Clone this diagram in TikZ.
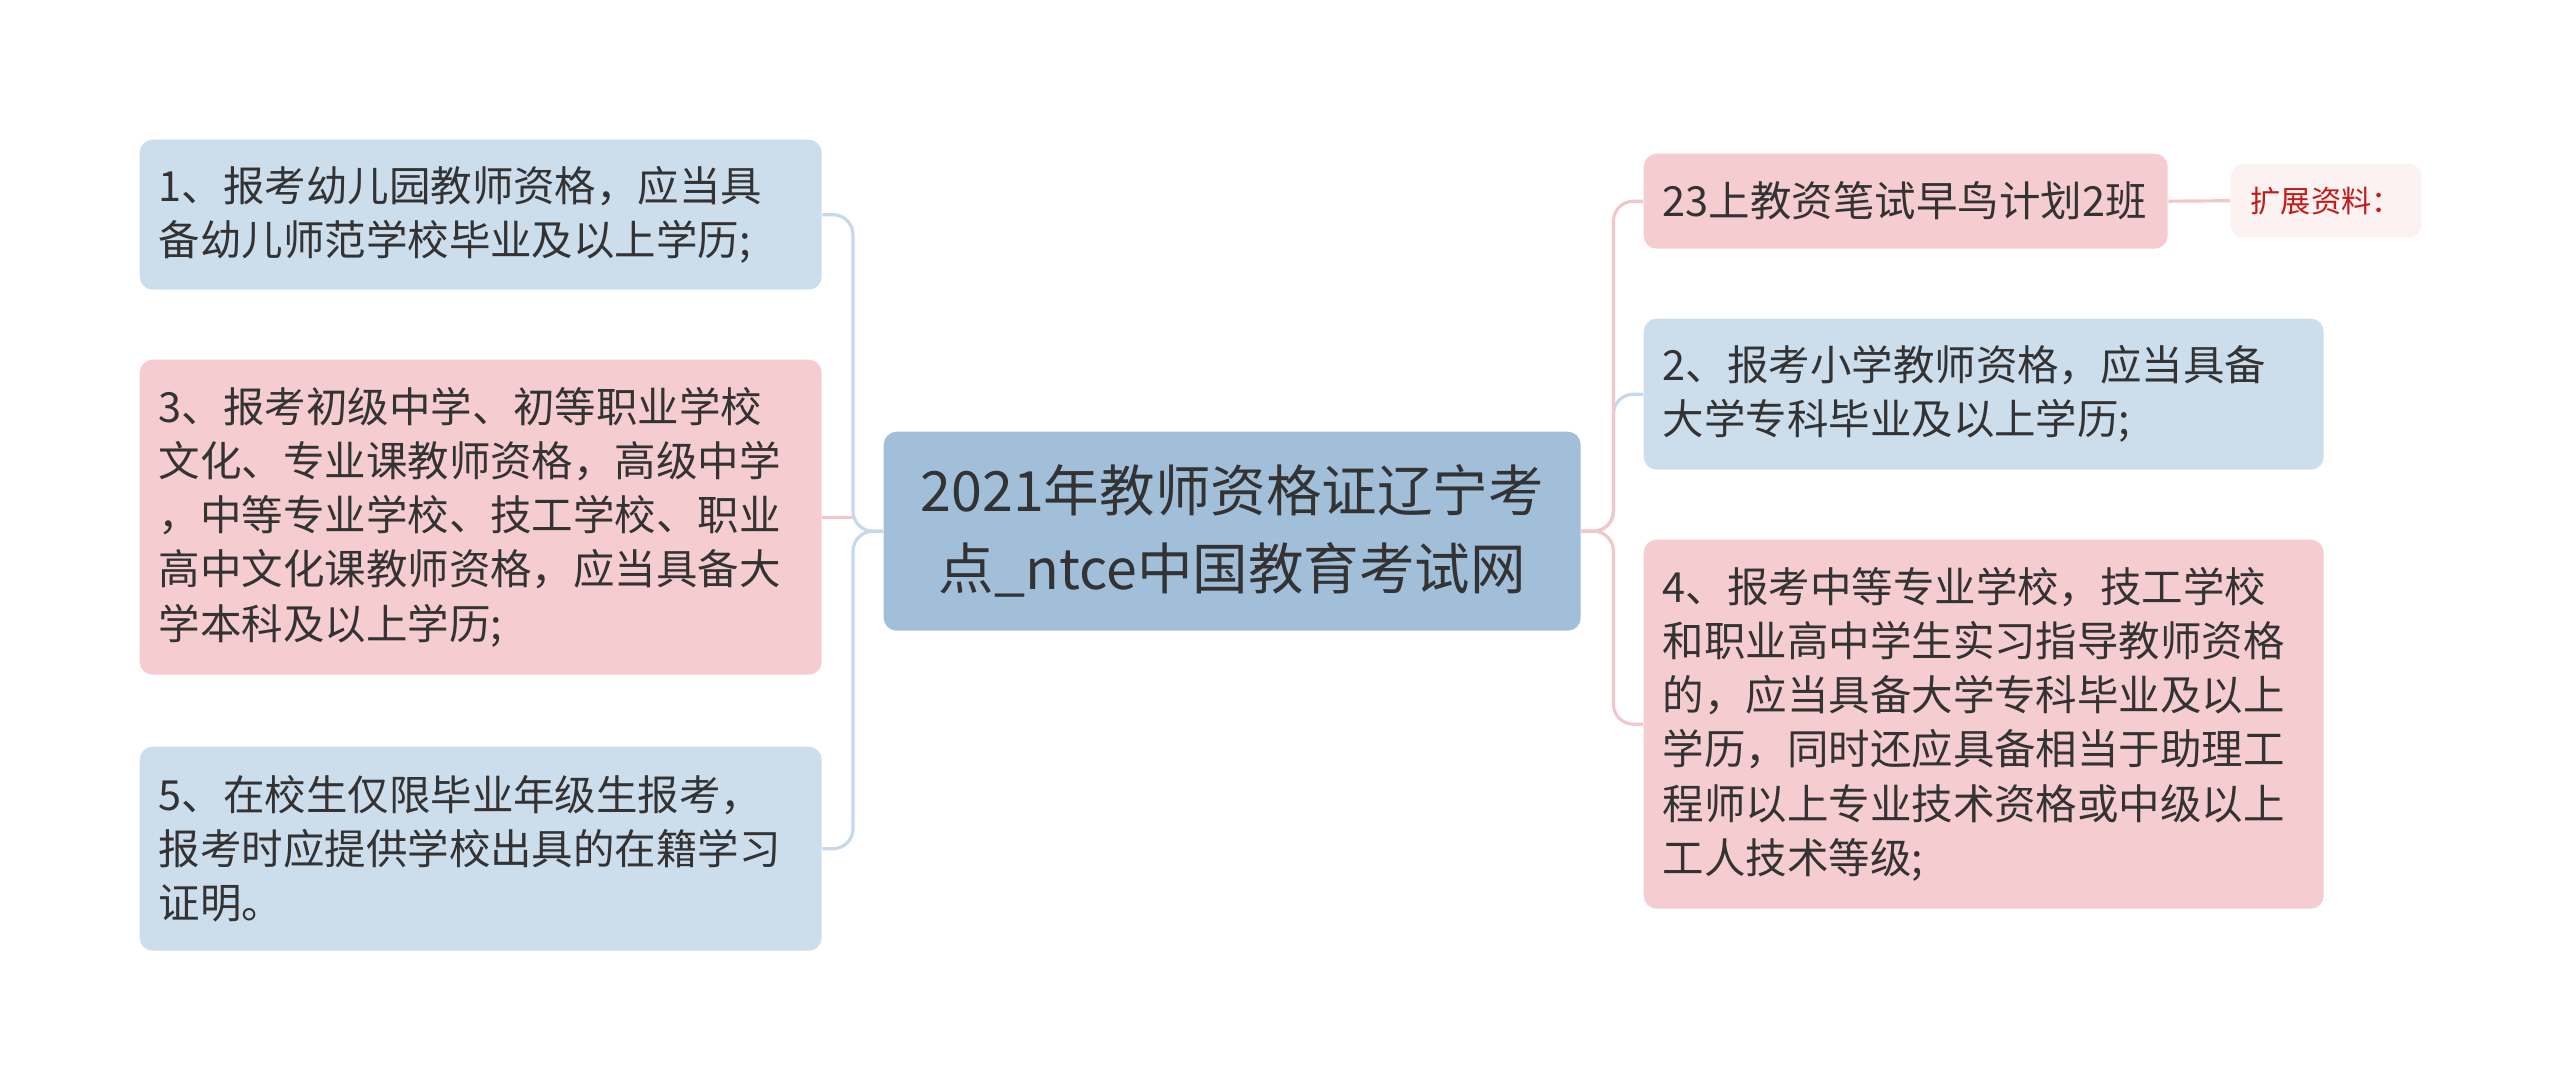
\documentclass[tikz,border=0pt]{standalone}
\usepackage{fontspec}
\setmainfont{Noto Sans CJK SC}
\usetikzlibrary{positioning}
\definecolor{bluefill}{HTML}{CCDDEC}
\definecolor{pinkfill}{HTML}{F5CDD0}
\definecolor{rootfill}{HTML}{A2BFDA}
\definecolor{notefill}{HTML}{FCF2F2}
\definecolor{bluewire}{HTML}{C6D9EB}
\definecolor{pinkwire}{HTML}{F2C6CA}
\definecolor{textgray}{HTML}{333333}
\definecolor{notered}{HTML}{C41A1A}

\begin{document}
\begin{tikzpicture}[
        box/.style={rounded corners=0.13cm, anchor=north west, align=left,
            inner xsep=0.19cm, text=textgray, font=\fontsize{11.8}{15.4}\selectfont},
        bluebox/.style={box, fill=bluefill},
        pinkbox/.style={box, fill=pinkfill},
        bluelink/.style={draw=bluewire, line width=0.9pt, rounded corners=0.2cm},
        pinklink/.style={draw=pinkwire, line width=0.9pt, rounded corners=0.2cm}]
        \useasboundingbox (0, 0) rectangle (25.6, -10.89);
        \node (ctr) at (8.83, -4.31) [box, fill=rootfill, align=center, text width=6.59cm,
            minimum height=1.99cm, font=\fontsize{15.8}{22.2}\selectfont]
            {2021年教师资格证辽宁考\\点\_ntce中国教育考试网};
        \node (q1) at (1.39, -1.39) [bluebox, text width=6.44cm, minimum height=1.50cm]
            {1、报考幼儿园教师资格，应当具\\备幼儿师范学校毕业及以上学历;};
        \node (q3) at (1.39, -3.59) [pinkbox, text width=6.44cm, minimum height=3.15cm]
            {3、报考初级中学、初等职业学校\\文化、专业课教师资格，高级中学\\，中等专业学校、技工学校、职业\\高中文化课教师资格，应当具备大\\学本科及以上学历;};
        \node (q5) at (1.39, -7.46) [bluebox, text width=6.44cm, minimum height=2.04cm]
            {5、在校生仅限毕业年级生报考，\\报考时应提供学校出具的在籍学习\\证明。};
        \node (r23) at (16.43, -1.53) [pinkbox, text width=4.86cm, minimum height=0.95cm]
            {23上教资笔试早鸟计划2班};
        \node (ext) at (22.30, -1.63) [box, fill=notefill, text=notered, align=center,
            text width=1.53cm, minimum height=0.74cm, font=\fontsize{8.6}{10}\selectfont]
            {扩展资料：};
        \node (r2) at (16.43, -3.18) [bluebox, text width=6.42cm, minimum height=1.51cm]
            {2、报考小学教师资格，应当具备\\大学专科毕业及以上学历;};
        \node (r4) at (16.43, -5.39) [pinkbox, text width=6.42cm, minimum height=3.69cm]
            {4、报考中等专业学校，技工学校\\和职业高中学生实习指导教师资格\\的，应当具备大学专科毕业及以上\\学历，同时还应具备相当于助理工\\程师以上专业技术资格或中级以上\\工人技术等级;};
        \coordinate [left=0.30cm of ctr.west] (lbus);
        \coordinate [right=0.32cm of ctr.east] (rbus);
        \draw [pinklink] (q3.east) -- (q3.east -| lbus);
        \draw [bluelink] (ctr.west) -- (lbus) |- (q1.east);
        \draw [bluelink] (ctr.west) -- (lbus) |- (q5.east);
        \draw [bluelink] (ctr.east) -- (rbus) |- (r2.west);
        \draw [pinklink] (ctr.east) -- (rbus) |- (r23.west);
        \draw [pinklink] (ctr.east) -- (rbus) |- (r4.west);
        \draw [pinklink] (r23.east) -- (ext.west);
    \end{tikzpicture}
\end{document}
